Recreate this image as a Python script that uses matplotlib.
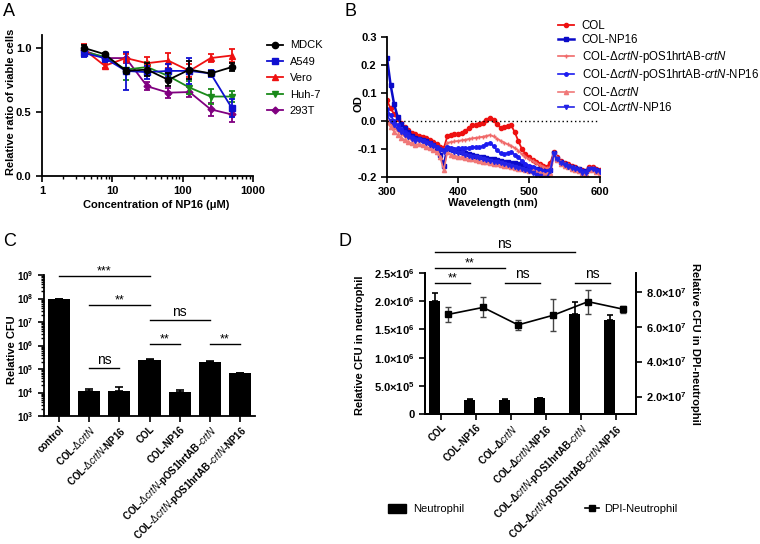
import numpy as np
import matplotlib
matplotlib.use('Agg')
import matplotlib.pyplot as plt
from matplotlib.patches import Patch
from matplotlib.lines import Line2D

plt.rcParams['font.family'] = ['Liberation Sans', 'DejaVu Sans']
plt.rcParams['mathtext.fontset'] = 'custom'
plt.rcParams['mathtext.rm'] = 'Liberation Sans'
plt.rcParams['mathtext.it'] = 'Liberation Sans:italic'
plt.rcParams['mathtext.bf'] = 'Liberation Sans:bold'
plt.rcParams['axes.linewidth'] = 1.3
plt.rcParams['xtick.major.width'] = 1.2
plt.rcParams['ytick.major.width'] = 1.2
plt.rcParams['xtick.minor.width'] = 1.0
plt.rcParams['ytick.minor.width'] = 1.0
plt.rcParams['xtick.major.size'] = 4
plt.rcParams['ytick.major.size'] = 4

# ---------------- data: panel A ----------------
conc = [3.9, 7.8, 15.6, 31.25, 62.5, 125, 250, 500]
cell_lines = ['MDCK', 'A549', 'Vero', 'Huh-7', '293T']
viab_mdck = [1.00, 0.95, 0.82, 0.83, 0.75, 0.83, 0.80, 0.85]
err_mdck = [0.02, 0.01, 0.02, 0.05, 0.05, 0.07, 0.02, 0.03]
viab_a549 = [0.96, 0.92, 0.82, 0.81, 0.82, 0.82, 0.80, 0.53]
err_a549 = [0.03, 0.03, 0.15, 0.05, 0.05, 0.10, 0.03, 0.07]
viab_vero = [0.99, 0.86, 0.92, 0.88, 0.90, 0.82, 0.92, 0.94]
err_vero = [0.04, 0.02, 0.03, 0.05, 0.06, 0.05, 0.03, 0.05]
viab_huh7 = [0.97, 0.93, 0.83, 0.85, 0.78, 0.69, 0.62, 0.62]
err_huh7 = [0.02, 0.02, 0.08, 0.04, 0.04, 0.05, 0.06, 0.04]
viab_293t = [0.98, 0.92, 0.92, 0.70, 0.65, 0.655, 0.52, 0.48]
err_293t = [0.02, 0.02, 0.04, 0.03, 0.04, 0.04, 0.05, 0.06]

# ---------------- data: panel B ----------------
wavelength = list(range(300, 605, 5))
od_col = [0.074, 0.045, 0.025, 0.008, -0.008, -0.022, -0.033, -0.042, -0.048, -0.052,
          -0.057, -0.062, -0.068, -0.075, -0.083, -0.092, -0.097, -0.054, -0.051, -0.048,
          -0.046, -0.043, -0.036, -0.026, -0.016, -0.013, -0.012, -0.006, 0.005, 0.012,
          0.003, -0.012, -0.024, -0.020, -0.018, -0.016, -0.040, -0.072, -0.100, -0.118,
          -0.130, -0.138, -0.146, -0.153, -0.160, -0.163, -0.150, -0.112, -0.128, -0.142,
          -0.150, -0.155, -0.160, -0.165, -0.170, -0.175, -0.178, -0.163, -0.165, -0.170,
          -0.175]
od_col_np16 = [0.226, 0.130, 0.060, 0.015, -0.010, -0.025, -0.040, -0.052, -0.060, -0.063,
               -0.068, -0.072, -0.078, -0.085, -0.095, -0.120, -0.160, -0.095, -0.100, -0.105,
               -0.108, -0.112, -0.115, -0.118, -0.121, -0.124, -0.127, -0.129, -0.131, -0.134,
               -0.137, -0.140, -0.142, -0.145, -0.147, -0.149, -0.151, -0.155, -0.158, -0.161,
               -0.164, -0.167, -0.170, -0.173, -0.176, -0.178, -0.175, -0.115, -0.135, -0.148,
               -0.155, -0.160, -0.165, -0.168, -0.172, -0.178, -0.180, -0.172, -0.170, -0.175,
               -0.178]
od_comp = [0.005, -0.010, -0.025, -0.035, -0.045, -0.055, -0.060, -0.068, -0.072, -0.070,
           -0.075, -0.080, -0.085, -0.090, -0.098, -0.105, -0.110, -0.078, -0.075, -0.073,
           -0.071, -0.069, -0.067, -0.064, -0.062, -0.060, -0.058, -0.056, -0.053, -0.050,
           -0.055, -0.063, -0.070, -0.077, -0.083, -0.089, -0.096, -0.106, -0.118, -0.128,
           -0.136, -0.143, -0.150, -0.157, -0.163, -0.168, -0.165, -0.115, -0.132, -0.145,
           -0.152, -0.158, -0.163, -0.167, -0.172, -0.178, -0.182, -0.168, -0.168, -0.174,
           -0.178]
od_comp_np16 = [0.042, 0.020, 0.000, -0.015, -0.028, -0.038, -0.048, -0.058, -0.064, -0.066,
                -0.070, -0.075, -0.080, -0.086, -0.092, -0.100, -0.105, -0.092, -0.097, -0.099,
                -0.098, -0.098, -0.097, -0.095, -0.094, -0.093, -0.093, -0.090, -0.082, -0.078,
                -0.090, -0.105, -0.115, -0.117, -0.114, -0.112, -0.120, -0.130, -0.142, -0.152,
                -0.160, -0.166, -0.170, -0.174, -0.178, -0.180, -0.176, -0.117, -0.136, -0.150,
                -0.157, -0.162, -0.167, -0.170, -0.174, -0.180, -0.182, -0.172, -0.171, -0.176,
                -0.180]
od_dcrtn = [-0.004, -0.022, -0.038, -0.050, -0.060, -0.068, -0.074, -0.080, -0.085, -0.082,
            -0.087, -0.092, -0.098, -0.104, -0.112, -0.130, -0.176, -0.110, -0.120, -0.124,
            -0.127, -0.130, -0.132, -0.134, -0.137, -0.140, -0.142, -0.145, -0.147, -0.150,
            -0.152, -0.155, -0.157, -0.160, -0.162, -0.165, -0.168, -0.170, -0.173, -0.175,
            -0.177, -0.180, -0.182, -0.185, -0.188, -0.190, -0.185, -0.118, -0.138, -0.152,
            -0.160, -0.165, -0.170, -0.174, -0.180, -0.186, -0.188, -0.175, -0.176, -0.182,
            -0.188]
od_dcrtn_np16 = [0.020, 0.000, -0.015, -0.028, -0.040, -0.050, -0.058, -0.064, -0.070, -0.068,
                 -0.072, -0.078, -0.085, -0.090, -0.096, -0.105, -0.110, -0.100, -0.105, -0.110,
                 -0.113, -0.116, -0.120, -0.124, -0.127, -0.130, -0.133, -0.136, -0.139, -0.142,
                 -0.145, -0.148, -0.151, -0.154, -0.157, -0.160, -0.163, -0.167, -0.171, -0.175,
                 -0.180, -0.186, -0.192, -0.198, -0.203, -0.202, -0.180, -0.118, -0.137, -0.150,
                 -0.158, -0.163, -0.168, -0.172, -0.176, -0.184, -0.185, -0.173, -0.173, -0.178,
                 -0.182]
b_labels = ['COL', 'COL-NP16',
            r'COL-Δ$\mathit{crtN}$-pOS1hrtAB-$\mathit{crtN}$',
            r'COL-Δ$\mathit{crtN}$-pOS1hrtAB-$\mathit{crtN}$-NP16',
            r'COL-Δ$\mathit{crtN}$',
            r'COL-Δ$\mathit{crtN}$-NP16']

# ---------------- data: panel C ----------------
c_labels = ['control', r'COL-$\mathit{ΔcrtN}$', r'COL-$\mathit{ΔcrtN}$-NP16', 'COL', 'COL-NP16',
            r'COL-$\mathit{ΔcrtN}$-pOS1hrtAB-$\mathit{crtN}$',
            r'COL-$\mathit{ΔcrtN}$-pOS1hrtAB-$\mathit{crtN}$-NP16']
cfu = [1.0e8, 1.15e4, 1.2e4, 2.5e5, 1.05e4, 2.0e5, 6.7e4]
cfu_err = [0.0, 0.25e4, 0.6e4, 0.2e5, 0.2e4, 0.15e5, 0.2e4]
c_yticks = [1e3, 1e4, 1e5, 1e6, 1e7, 1e8, 1e9]
c_yticklabels = [r'$\mathbf{10^{%d}}$' % k for k in range(3, 10)]
# (left bar, right bar, height, text)
c_sig = [(0, 3, 9.0e8, '***'), (1, 3, 5.4e7, '**'), (3, 5, 1.2e7, 'ns'),
         (3, 4, 1.2e6, '**'), (5, 6, 1.2e6, '**'), (1, 2, 1.07e5, 'ns')]

# ---------------- data: panel D ----------------
d_labels = ['COL', 'COL-NP16', r'COL-Δ$\mathit{crtN}$', r'COL-Δ$\mathit{crtN}$-NP16',
            r'COL-Δ$\mathit{crtN}$-pOS1hrtAB-$\mathit{crtN}$',
            r'COL-Δ$\mathit{crtN}$-pOS1hrtAB-$\mathit{crtN}$-NP16']
neutrophil = [2.0e6, 0.25e6, 0.24e6, 0.28e6, 1.78e6, 1.67e6]
neutrophil_err = [0.14e6, 0.02e6, 0.02e6, 0.01e6, 0.21e6, 0.09e6]
dpi_neutrophil = [6.7e7, 7.1e7, 6.1e7, 6.65e7, 7.43e7, 7.0e7]
dpi_err = [0.45e7, 0.57e7, 0.28e7, 0.92e7, 0.69e7, 0.2e7]
d_left_ticks = [0, 0.5e6, 1.0e6, 1.5e6, 2.0e6, 2.5e6]
d_left_labels = ['0', r'$\mathbf{5.0{\times}10^{5}}$', r'$\mathbf{1.0{\times}10^{6}}$',
                 r'$\mathbf{1.5{\times}10^{6}}$', r'$\mathbf{2.0{\times}10^{6}}$',
                 r'$\mathbf{2.5{\times}10^{6}}$']
d_right_ticks = [2e7, 4e7, 6e7, 8e7]
d_right_labels = [r'$\mathbf{2.0{\times}10^{7}}$', r'$\mathbf{4.0{\times}10^{7}}$',
                  r'$\mathbf{6.0{\times}10^{7}}$', r'$\mathbf{8.0{\times}10^{7}}$']
d_sig = [(0, 4, 2.87e6, 'ns'), (0, 2, 2.59e6, '**'), (0, 1, 2.33e6, '**'),
         (2, 3, 2.33e6, 'ns'), (4, 5, 2.33e6, 'ns')]

W, H = 760, 544
fig = plt.figure(figsize=(W / 100, H / 100), dpi=100)
ROT = 45
XFS = 7


def rect(l, t, r, b):
    return [l / W, 1 - b / H, (r - l) / W, (b - t) / H]


def ftext(x, y, s, **kw):
    fig.text(x / W, 1 - y / H, s, **kw)


def clean(ax):
    ax.spines['top'].set_visible(False)
    ax.spines['right'].set_visible(False)
    ax.tick_params(labelsize=8)
    for lab in ax.get_xticklabels() + ax.get_yticklabels():
        lab.set_fontweight('bold')


def sig_line(ax, x1, x2, y, s):
    ax.plot([x1, x2], [y, y], color='black', lw=1.0, clip_on=False)
    if s == 'ns':
        ax.annotate(s, ((x1 + x2) / 2, y), xytext=(0, 1), textcoords='offset points',
                    ha='center', va='bottom', fontsize=10, annotation_clip=False)
    else:
        ax.annotate(s, ((x1 + x2) / 2, y), xytext=(0, -1), textcoords='offset points',
                    ha='center', va='bottom', fontsize=9, annotation_clip=False)


# ================= Panel A =================
axA = fig.add_axes(rect(42, 35, 253, 176))
series_a = [(viab_mdck, err_mdck, 'black', 'o'),
            (viab_a549, err_a549, '#1010d0', 's'),
            (viab_vero, err_vero, '#ee1111', '^'),
            (viab_huh7, err_huh7, '#1a8a1a', 'v'),
            (viab_293t, err_293t, '#800080', 'D')]
handles_a = []
for k, (v, e, c, m) in enumerate(series_a):
    ms = 3.5 if m == 'D' else 4.5
    axA.errorbar(conc, v, yerr=e, color=c, marker=m, ms=ms, lw=1.3, capsize=2.5,
                 capthick=1.3, elinewidth=1.3, zorder=10 - k)
    handles_a.append(Line2D([], [], color=c, marker=m, ms=ms, lw=1.3))
axA.set_xscale('log')
axA.set_xlim(1, 1000)
axA.set_ylim(0, 1.1)
axA.set_xticks([1, 10, 100, 1000])
axA.set_xticklabels(['1', '10', '100', '1000'])
axA.set_yticks([0, 0.5, 1.0])
axA.set_yticklabels(['0.0', '0.5', '1.0'])
clean(axA)
ftext(11.5, 102, 'Relative ratio of viable cells', rotation=90, ha='center', va='center',
      fontsize=8, fontweight='bold')
ftext(156, 205, 'Concentration of NP16 (μM)', ha='center', va='center', fontsize=8,
      fontweight='bold')
fig.legend(handles_a, cell_lines, loc='upper left', bbox_to_anchor=(263 / W, 1 - 36 / H),
           frameon=False, fontsize=8, handlelength=1.4, labelspacing=0.58,
           handletextpad=0.6, borderaxespad=0)

# ================= Panel B =================
axB = fig.add_axes(rect(387, 37, 600, 177))
series_b = [(od_col, '#ee1111', 'o', 3, 1.3),
            (od_col_np16, '#0a0ac8', 's', 3, 1.8),
            (od_comp, '#f06a6a', '+', 3.5, 1.2),
            (od_comp_np16, '#1c1cf0', 'o', 2.5, 1.2),
            (od_dcrtn, '#f07878', '^', 3, 1.2),
            (od_dcrtn_np16, '#2323e6', 'v', 3, 1.2)]
handles_b = []
for v, c, m, ms, lw in series_b:
    axB.plot(wavelength, v, color=c, marker=m, ms=ms, lw=lw, mew=1.0)
    handles_b.append(Line2D([], [], color=c, marker=m, ms=ms, lw=lw))
axB.axhline(0, color='black', ls=(0, (1, 2)), lw=1.0)
axB.set_xlim(300, 600)
axB.set_ylim(-0.2, 0.3)
axB.set_xticks([300, 400, 500, 600])
axB.set_yticks([-0.2, -0.1, 0.0, 0.1, 0.2, 0.3])
axB.set_yticklabels(['-0.2', '-0.1', '0.0', '0.1', '0.2', '0.3'])
clean(axB)
ftext(358, 104, 'OD', rotation=90, ha='center', va='center', fontsize=8, fontweight='bold')
ftext(493, 203, 'Wavelength (nm)', ha='center', va='center', fontsize=8, fontweight='bold')
fig.legend(handles_b, b_labels, loc='upper left', bbox_to_anchor=(553 / W, 1 - 15 / H),
           frameon=False, fontsize=8.3, handlelength=1.4, labelspacing=0.22,
           handletextpad=0.7, borderaxespad=0)

# ================= Panel C =================
axC = fig.add_axes(rect(44, 275, 255, 416))
xc = np.arange(len(cfu))
axC.bar(xc, cfu, width=0.73, color='black', zorder=3)
axC.errorbar(xc, cfu, yerr=[np.zeros(len(cfu)), cfu_err], fmt='none', ecolor='black',
             capsize=3, elinewidth=1.2, capthick=1.2, zorder=4)
axC.set_yscale('log')
axC.set_ylim(1e3, 1e9)
axC.set_xlim(-0.5, 6.5)
axC.set_yticks(c_yticks)
axC.set_yticklabels(c_yticklabels)
axC.set_xticks(xc)
axC.set_xticklabels(c_labels, rotation=ROT, ha='right', rotation_mode='anchor')
clean(axC)
axC.tick_params(axis='y', labelsize=7)
axC.tick_params(axis='x', labelsize=XFS, pad=2)
for x1, x2, y, s in c_sig:
    sig_line(axC, x1, x2, y, s)
ftext(12, 350, 'Relative CFU', rotation=90, ha='center', va='center', fontsize=8,
      fontweight='bold')

# ================= Panel D =================
axD = fig.add_axes(rect(425, 273, 636, 414))
xd = np.arange(len(neutrophil))
bar_x = xd - 0.185
axD.bar(bar_x, neutrophil, width=0.31, color='black', zorder=3)
axD.errorbar(bar_x, neutrophil, yerr=[np.zeros(len(xd)), neutrophil_err], fmt='none',
             ecolor='black', capsize=2.5, elinewidth=1.2, capthick=1.2, zorder=4)
axD.set_xlim(-0.46, 5.57)
axD.set_ylim(0, 2.5e6)
axD.set_yticks(d_left_ticks)
axD.set_yticklabels(d_left_labels)
axD.set_xticks(xd)
axD.set_xticklabels(d_labels, rotation=ROT, ha='right', rotation_mode='anchor')
axD.spines['top'].set_visible(False)
axD.tick_params(labelsize=8)
axD.tick_params(axis='x', labelsize=XFS, pad=2)
for lab in axD.get_xticklabels() + axD.get_yticklabels():
    lab.set_fontweight('bold')
for x1, x2, y, s in d_sig:
    sig_line(axD, bar_x[x1], bar_x[x2], y, s)

axD2 = axD.twinx()
axD2.errorbar(xd + 0.2, dpi_neutrophil, yerr=dpi_err, color='black', marker='s', ms=5,
              lw=1.2, ecolor='#444444', elinewidth=1.0, capsize=2.5, capthick=1.0)
axD2.set_ylim(1e7, 9.07e7)
axD2.set_yticks(d_right_ticks)
axD2.set_yticklabels(d_right_labels)
axD2.spines['top'].set_visible(False)
axD2.tick_params(labelsize=8)
ftext(360, 345, 'Relative CFU in neutrophil', rotation=90, ha='center', va='center',
      fontsize=8, fontweight='bold')
ftext(695, 344, 'Relative CFU in DPI-neutrophil', rotation=270, ha='center', va='center',
      fontsize=8, fontweight='bold')

handles_d = [Patch(facecolor='black', edgecolor='black'),
             Line2D([], [], color='black', marker='s', ms=5, lw=1.2)]
fig.legend(handles_d[:1], ['Neutrophil'], loc='center left',
           bbox_to_anchor=(384 / W, 1 - 509 / H), frameon=False, fontsize=8,
           handlelength=1.6, handleheight=0.9, handletextpad=0.6, borderaxespad=0)
fig.legend(handles_d[1:], ['DPI-Neutrophil'], loc='center left',
           bbox_to_anchor=(581 / W, 1 - 509 / H), frameon=False, fontsize=8,
           handlelength=1.2, handletextpad=0.5, borderaxespad=0)

# panel letters
for letter, x, y in [('A', 3, 12), ('B', 345, 12), ('C', 3, 242), ('D', 338, 242)]:
    ftext(x, y, letter, ha='left', va='center', fontsize=13)

fig.savefig('out.png', dpi=100)
